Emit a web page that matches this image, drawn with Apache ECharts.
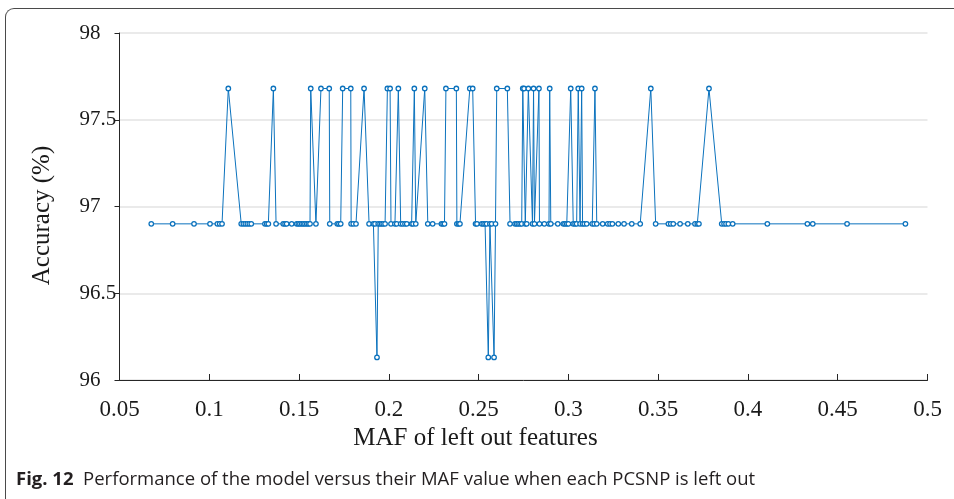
<!DOCTYPE html>
<html>
<head>
<meta charset="utf-8">
<script src="https://cdn.jsdelivr.net/npm/echarts@6/dist/echarts.min.js"></script>
<style>
  html, body { margin: 0; padding: 0; background: #fff; }
  #wrap { position: relative; width: 954px; height: 499px; overflow: hidden; }
  #frame {
    position: absolute; left: 5px; top: 8px; width: 1000px; height: 560px;
    border-left: 1.5px solid #4a4a4a; border-top: 1.5px solid #4a4a4a;
    border-top-left-radius: 9px; box-sizing: border-box;
  }
  #chart { position: absolute; left: 0; top: 0; width: 954px; height: 499px; }
</style>
</head>
<body>
<div id="wrap">
  <div id="frame"></div>
  <div id="chart"></div>
</div>
<script>
// MAF of each left-out PCSNP (sorted) and the accuracy obtained without it
const mafValues = [
  0.0677, 0.0796, 0.0915, 0.1004, 0.1045, 0.1058, 0.1071, 0.1106, 0.1178, 0.1190,
  0.1201, 0.1212, 0.1223, 0.1234, 0.1310, 0.1320, 0.1329, 0.1357, 0.1372, 0.1412,
  0.1422, 0.1431, 0.1459, 0.1487, 0.1496, 0.1505, 0.1515, 0.1524, 0.1533, 0.1543,
  0.1552, 0.1561, 0.1565, 0.1594, 0.1622, 0.1668, 0.1671, 0.1713, 0.1722, 0.1732,
  0.1743, 0.1788, 0.1790, 0.1802, 0.1817, 0.1862, 0.1890, 0.1914, 0.1923, 0.1934,
  0.1941, 0.1951, 0.1960, 0.1969, 0.1979, 0.1992, 0.2007, 0.2012, 0.2034, 0.2044,
  0.2053, 0.2066, 0.2077, 0.2090, 0.2100, 0.2127, 0.2135, 0.2142, 0.2150, 0.2200,
  0.2217, 0.2244, 0.2293, 0.2302, 0.2310, 0.2318, 0.2376, 0.2379, 0.2388, 0.2396,
  0.2451, 0.2467, 0.2483, 0.2491, 0.2517, 0.2526, 0.2536, 0.2545, 0.2554, 0.2563,
  0.2573, 0.2586, 0.2594, 0.2601, 0.2660, 0.2675, 0.2703, 0.2712, 0.2721, 0.2731,
  0.2740, 0.2746, 0.2753, 0.2760, 0.2768, 0.2777, 0.2800, 0.2806, 0.2811, 0.2836,
  0.2839, 0.2866, 0.2892, 0.2896, 0.2902, 0.2941, 0.2972, 0.2981, 0.2991, 0.3000,
  0.3013, 0.3027, 0.3037, 0.3046, 0.3055, 0.3065, 0.3074, 0.3079, 0.3089, 0.3102,
  0.3133, 0.3144, 0.3148, 0.3158, 0.3191, 0.3219, 0.3232, 0.3245, 0.3278, 0.3310,
  0.3353, 0.3400, 0.3459, 0.3486, 0.3557, 0.3570, 0.3584, 0.3622, 0.3665, 0.3705,
  0.3718, 0.3727, 0.3783, 0.3854, 0.3867, 0.3878, 0.3891, 0.3915, 0.4108, 0.4331,
  0.4361, 0.4552, 0.4877
];
const accuracyValues = [
  96.90, 96.90, 96.90, 96.90, 96.90, 96.90, 96.90, 97.68, 96.90, 96.90,
  96.90, 96.90, 96.90, 96.90, 96.90, 96.90, 96.90, 97.68, 96.90, 96.90,
  96.90, 96.90, 96.90, 96.90, 96.90, 96.90, 96.90, 96.90, 96.90, 96.90,
  96.90, 96.90, 97.68, 96.90, 97.68, 97.68, 96.90, 96.90, 96.90, 96.90,
  97.68, 97.68, 96.90, 96.90, 96.90, 97.68, 96.90, 96.90, 96.90, 96.13,
  96.90, 96.90, 96.90, 96.90, 96.90, 97.68, 97.68, 96.90, 96.90, 96.90,
  97.68, 96.90, 96.90, 96.90, 96.90, 96.90, 96.90, 97.68, 96.90, 97.68,
  96.90, 96.90, 96.90, 96.90, 96.90, 97.68, 97.68, 96.90, 96.90, 96.90,
  97.68, 97.68, 96.90, 96.90, 96.90, 96.90, 96.90, 96.90, 96.13, 96.90,
  96.90, 96.13, 96.90, 97.68, 97.68, 96.90, 96.90, 96.90, 96.90, 96.90,
  96.90, 97.68, 97.68, 96.90, 96.90, 97.68, 96.90, 97.68, 96.90, 97.68,
  96.90, 96.90, 96.90, 97.68, 96.90, 96.90, 96.90, 96.90, 96.90, 96.90,
  97.68, 96.90, 96.90, 96.90, 97.68, 96.90, 97.68, 96.90, 96.90, 96.90,
  96.90, 96.90, 97.68, 96.90, 96.90, 96.90, 96.90, 96.90, 96.90, 96.90,
  96.90, 96.90, 97.68, 96.90, 96.90, 96.90, 96.90, 96.90, 96.90, 96.90,
  96.90, 96.90, 97.68, 96.90, 96.90, 96.90, 96.90, 96.90, 96.90, 96.90,
  96.90, 96.90, 96.90
];
const xTicks = { min: 0.05, max: 0.5, step: 0.05 };
const yTicks = { min: 96, max: 98, step: 0.5 };

const serif = '"Liberation Serif", "DejaVu Serif", serif';
const captionFont = '"Open Sans", "Noto Sans", sans-serif';
const lineBlue = '#0b72bd';

const points = mafValues.map((m, i) => [m, accuracyValues[i]]);

const chart = echarts.init(document.getElementById('chart'), null, { renderer: 'canvas' });
chart.setOption({
  animation: false,
  backgroundColor: 'transparent',
  grid: { left: 119.5, right: 26.5, top: 33, bottom: 119, containLabel: false },
  title: {
    left: 11, top: 465,
    text: '{b|Fig. 12}  Performance of the model versus their MAF value when each PCSNP is left out',
    textStyle: {
      fontFamily: captionFont, fontSize: 18.5, fontWeight: 'normal', color: '#231f20',
      rich: {
        b: { fontFamily: captionFont, fontSize: 18.5, fontWeight: 'bold', color: '#231f20' }
      }
    }
  },
  xAxis: {
    type: 'value', min: xTicks.min, max: xTicks.max, interval: xTicks.step,
    name: 'MAF of left out features', nameLocation: 'middle', nameGap: 46,
    nameTextStyle: { fontFamily: serif, fontSize: 25, color: '#1a1a1a', padding: [0, 96, 0, 0] },
    axisLine: { show: true, onZero: false, lineStyle: { color: '#262626', width: 1 } },
    axisTick: { show: true, inside: true, length: 6, lineStyle: { color: '#262626' } },
    axisLabel: { fontFamily: serif, fontSize: 23, color: '#1a1a1a', margin: 18,
      formatter: v => String(+v.toFixed(2)) },
    splitLine: { show: false }
  },
  yAxis: {
    type: 'value', min: yTicks.min, max: yTicks.max, interval: yTicks.step,
    name: 'Accuracy (%)', nameLocation: 'middle', nameGap: 65, nameRotate: 90,
    nameTextStyle: { fontFamily: serif, fontSize: 25, color: '#1a1a1a', padding: [0, 18, 0, 0] },
    axisLine: { show: true, lineStyle: { color: '#262626', width: 1 } },
    axisTick: { show: true, inside: false, length: 5, lineStyle: { color: '#262626' } },
    axisLabel: { fontFamily: serif, fontSize: 21, color: '#1a1a1a', margin: 40, align: 'left' },
    splitLine: { show: true, lineStyle: { color: '#e3e3e3', width: 1.5 } }
  },
  series: [{
    type: 'line',
    data: points,
    symbol: 'circle', symbolSize: 4.5, showSymbol: true,
    itemStyle: { color: '#ffffff', borderColor: lineBlue, borderWidth: 1.3 },
    lineStyle: { color: lineBlue, width: 1 },
    emphasis: { disabled: true }
  }]
});
</script>
</body>
</html>
